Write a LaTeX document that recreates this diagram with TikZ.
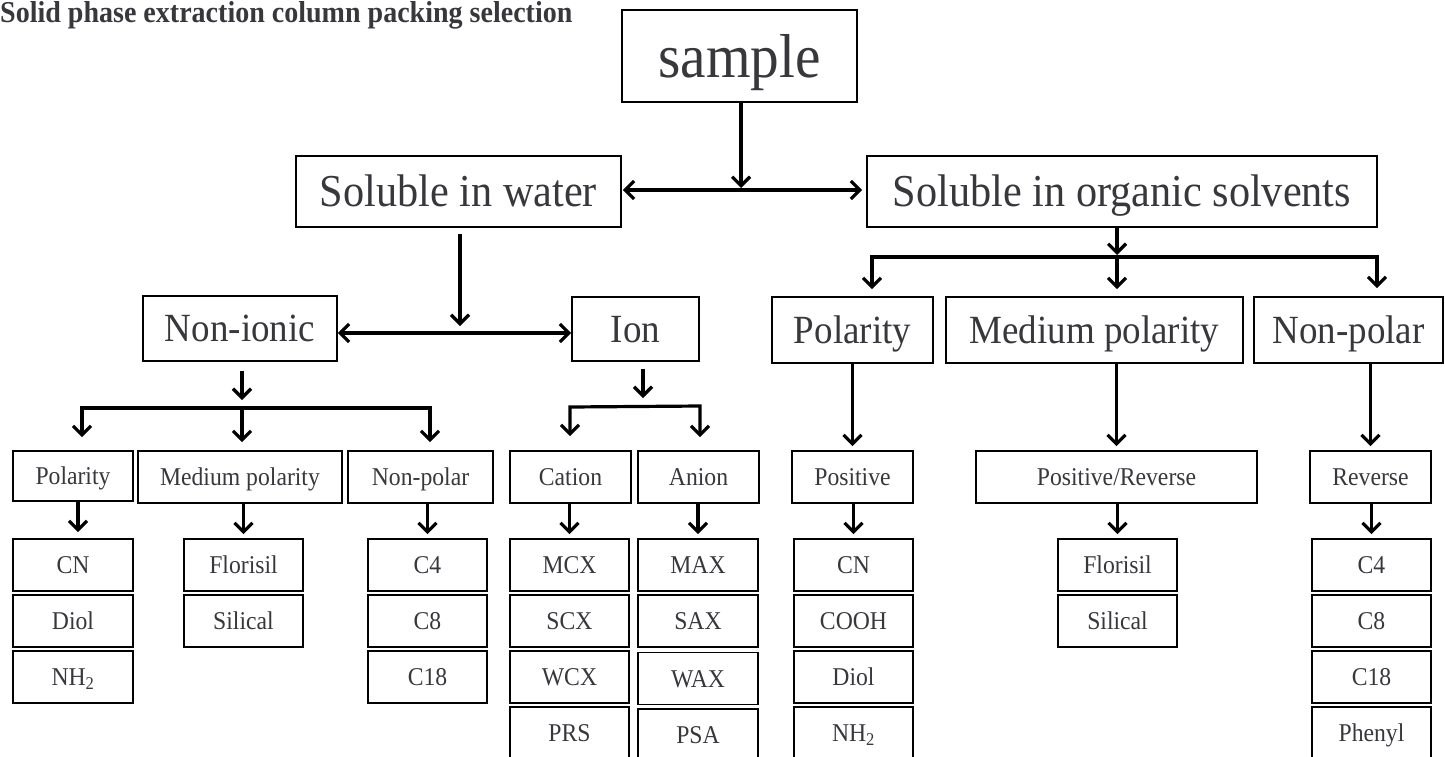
\documentclass[tikz,border=0pt]{standalone}
\usepackage{fontspec}
\setmainfont{Liberation Serif}[FakeStretch=0.925]
\usetikzlibrary{arrows.meta}
\definecolor{txt}{RGB}{55,55,60}
\begin{document}
\begin{tikzpicture}[x=1pt,y=-1pt,
  box/.style={draw=black,line width=1.8pt,inner sep=0pt,text=txt,text depth=0pt},
  fA/.style={font=\fontsize{62}{70}\selectfont,text height=42pt},
  fB/.style={font=\fontsize{45.7}{50}\selectfont,text height=30.3pt},
  fC/.style={font=\fontsize{40}{44}\selectfont,text height=26.5pt},
  fD/.style={font=\fontsize{25.6}{28}\selectfont,text height=17pt},
  big/.style={box,fB,minimum height=71pt},
  mid/.style={box,fC,minimum height=66pt},
  sub/.style={box,fD,minimum height=52pt},
  leaf/.style={box,fD,minimum height=52pt},
  tipx/.tip={Straight Barb[length=9pt,width=18pt]},
  arr/.style={line width=3.2pt,-tipx},
  darr/.style={line width=3.2pt,tipx-tipx},
  plain/.style={line width=3.2pt}]
\useasboundingbox (0,0) rectangle (1445,756);

% title
\node[anchor=base west,inner sep=0pt,text=txt,font=\bfseries\fontsize{30.3}{34}\selectfont] (title) at (0,22) {Solid phase extraction column packing selection};

% top levels
\node[box,fA,minimum width=235pt,minimum height=92pt] (sample) at (739.5,56) {sample};
\node[big,minimum width=325pt] (sw) at (458.5,191.5) {Soluble in water};
\node[big,minimum width=510pt] (so) at (1122,191.5) {Soluble in organic solvents};

\node[mid,minimum width=194pt,minimum height=65pt] (ni) at (240,328.5) {Non-ionic};
\node[mid,minimum width=127pt,minimum height=64pt] (ion) at (635.5,329) {Ion};
\node[mid,minimum width=161pt] (polR) at (852.5,330) {Polarity};
\node[mid,minimum width=297pt] (mpR) at (1094.5,330) {Medium polarity};
\node[mid,minimum width=189pt] (npR) at (1348.5,330) {Non-polar};

% second row
\node[sub,minimum width=120pt,minimum height=50pt] (polL) at (73,476) {Polarity};
\node[sub,minimum width=204pt] (mpL) at (240,477) {Medium polarity};
\node[sub,minimum width=145pt] (npL) at (420.5,477) {Non-polar};
\node[sub,minimum width=121pt] (cat) at (570.5,477) {Cation};
\node[sub,minimum width=121pt] (ani) at (698.5,477) {Anion};
\node[sub,minimum width=121pt] (pos) at (852.5,477) {Positive};
\node[sub,minimum width=281pt] (pr) at (1116.5,477) {Positive/Reverse};
\node[sub,minimum width=121pt] (rev) at (1370.5,477) {Reverse};

% leaves
\node[leaf,minimum width=120pt] (l11) at (73,565) {CN};
\node[leaf,minimum width=120pt] (l12) at (73,621) {Diol};
\node[leaf,minimum width=120pt] (l13) at (73,677) {NH\textsubscript{2}};

\node[leaf,minimum width=119pt] (l21) at (243.5,565) {Florisil};
\node[leaf,minimum width=119pt] (l22) at (243.5,621) {Silical};

\node[leaf,minimum width=119pt] (l31) at (427.5,565) {C4};
\node[leaf,minimum width=119pt] (l32) at (427.5,621) {C8};
\node[leaf,minimum width=119pt] (l33) at (427.5,677) {C18};

\node[leaf,minimum width=119pt] (l41) at (569.5,565) {MCX};
\node[leaf,minimum width=119pt] (l42) at (569.5,621) {SCX};
\node[leaf,minimum width=119pt] (l43) at (569.5,677) {WCX};
\node[leaf,minimum width=119pt] (l44) at (569.5,733) {PRS};

\node[leaf,minimum width=120pt] (l51) at (698,565) {MAX};
\node[leaf,minimum width=120pt] (l52) at (698,621) {SAX};
\node[leaf,minimum width=120pt] (l53) at (698,678.5) {WAX};
\node[leaf,minimum width=120pt] (l54) at (698,735) {PSA};

\node[leaf,minimum width=119pt] (l61) at (853.5,565) {CN};
\node[leaf,minimum width=119pt] (l62) at (853.5,621) {COOH};
\node[leaf,minimum width=119pt] (l63) at (853.5,677) {Diol};
\node[leaf,minimum width=119pt] (l64) at (853.5,733) {NH\textsubscript{2}};

\node[leaf,minimum width=119pt] (l71) at (1117.5,565) {Florisil};
\node[leaf,minimum width=119pt] (l72) at (1117.5,621) {Silical};

\node[leaf,minimum width=119pt] (l81) at (1371.5,565) {C4};
\node[leaf,minimum width=119pt] (l82) at (1371.5,621) {C8};
\node[leaf,minimum width=119pt] (l83) at (1371.5,677) {C18};
\node[leaf,minimum width=119pt] (l84) at (1371.5,733) {Phenyl};

% junction coordinates
\coordinate (j0) at (741,190);
\coordinate (wj) at (460,333);
\coordinate (b1l) at (82,408);
\coordinate (b1m) at (242,408);
\coordinate (b1r) at (430,408);
\coordinate (b2l) at (570,407);
\coordinate (b2m) at (643,406);
\coordinate (b2r) at (700,406);
\coordinate (b3l) at (872,257);
\coordinate (b3m) at (1117,257);
\coordinate (b3r) at (1377,257);

% connectors: top
\draw[arr,shorten >=2pt] (sample.south -| j0) -- (j0);
\draw[darr,shorten <=1pt,shorten >=4pt] (sw.east |- j0) -- (so.west |- j0);

% soluble in water branch
\draw[arr,shorten <=6pt,shorten >=7pt] (sw.south -| wj) -- (wj);
\draw[darr] (ni.east |- wj) -- (ion.west |- wj);

% non-ionic branch
\draw[arr,shorten <=9pt,shorten >=8pt] (ni.south -| b1m) -- (b1m);
\draw[darr,shorten <=13pt,shorten >=8pt] (polL.north -| b1l) -- (b1l) -- (b1r) -- (npL.north -| b1r);
\draw[arr,shorten >=8pt] (b1m) -- (mpL.north -| b1m);

% ion branch
\draw[arr,shorten <=7pt,shorten >=8pt] (ion.south -| b2m) -- (b2m);
\draw[darr,shorten <=14pt,shorten >=13pt] (cat.north -| b2l) -- (b2l) -- (b2r) -- (ani.north -| b2r);

% organic branch
\draw[arr,shorten >=2pt] (so.south -| b3m) -- (b3m);
\draw[darr,shorten <=7pt,shorten >=8pt] (polR.north -| b3l) -- (b3l) -- (b3r) -- (npR.north -| b3r);
\draw[arr,shorten >=7pt] (b3m) -- (mpR.north -| b3m);

% mid to sub (right)
\draw[arr,shorten >=4pt] (polR.south) -- (pos.north);
\draw[arr,shorten >=4pt] (mpR.south -| pr.north) -- (pr.north);
\draw[arr,shorten >=4pt] (npR.south -| rev.north) -- (rev.north);

% sub to leaves
\draw[arr,shorten >=6pt] ([xshift=5pt]polL.south) -- ([xshift=5pt]l11.north);
\draw[arr,shorten >=4pt] (mpL.south -| l21.north) -- (l21.north);
\draw[arr,shorten >=4pt] (npL.south -| l31.north) -- (l31.north);
\draw[arr,shorten >=4pt] (cat.south -| l41.north) -- (l41.north);
\draw[arr,shorten >=4pt] (ani.south -| l51.north) -- (l51.north);
\draw[arr,shorten >=4pt] (pos.south -| l61.north) -- (l61.north);
\draw[arr,shorten >=4pt] (pr.south -| l71.north) -- (l71.north);
\draw[arr,shorten >=4pt] (rev.south -| l81.north) -- (l81.north);
\end{tikzpicture}
\end{document}
